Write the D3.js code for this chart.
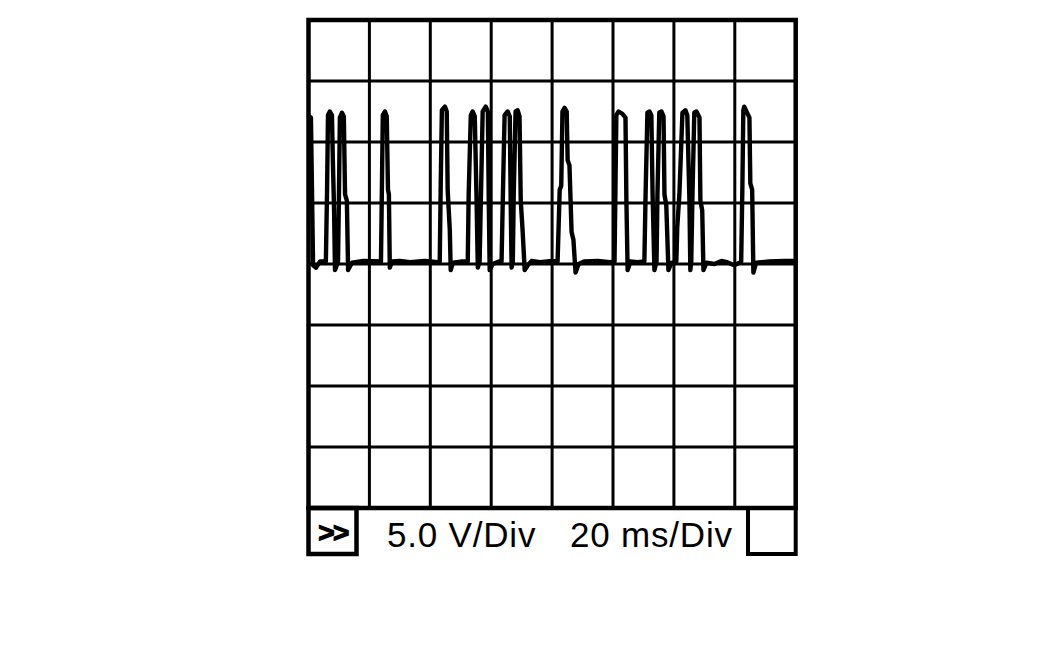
<!DOCTYPE html>
<html>
<head>
<meta charset="utf-8">
<script src="https://cdn.jsdelivr.net/npm/d3@7"></script>
<style>
  html, body { margin: 0; padding: 0; background: #fff; }
  svg { display: block; }
</style>
</head>
<body>
<svg id="chart" width="1063" height="661"></svg>
<script>
// ---- data ----
const timeMs = [
  0.2,0.8,1.5,2.5,3.8,5.7,6.1,6.4,7.0,7.7,8.0,8.4,8.7,9.0,9.7,10.0,10.3,11.0,11.6,12.0,12.6,13.0,13.6,14.3,18.0,
  23.8,24.1,24.4,25.1,25.7,26.1,26.4,26.7,27.4,30.0,33.3,38.2,42.5,
  43.1,43.4,43.8,44.8,45.4,45.7,46.4,46.7,47.4,50.0,
  52.3,52.6,53.3,53.9,54.6,55.2,55.6,56.2,56.6,57.2,58.2,58.9,59.2,59.5,60.5,62.5,
  63.4,63.8,64.4,65.4,66.1,66.4,66.7,67.1,67.4,68.0,68.7,69.3,69.7,70.3,71.0,72.0,73.3,76.0,80.0,
  81.8,82.5,83.0,83.4,84.1,84.8,85.1,85.7,86.4,87.0,87.7,88.7,90.5,95.0,99.0,
  100.5,100.8,101.1,101.8,103.1,104.1,104.4,104.8,105.7,108.0,
  110.3,110.7,111.3,112.0,112.6,113.0,113.6,114.3,114.6,115.2,115.9,116.6,116.9,117.5,118.2,119.2,
  120.8,121.1,121.8,122.8,123.8,124.4,125.1,125.4,125.7,126.1,126.7,127.4,128.4,128.7,129.3,129.7,130.7,
  133.3,135.6,137.5,139.8,141.5,
  142.1,142.5,142.8,143.1,144.8,145.1,145.7,146.1,147.0,151.3,156.2,160
];
const volts = [
  12.1,12.0,-0.1,-0.3,0.2,0.2,6.1,12.2,12.5,12.2,8.5,4.4,-0.5,-0.3,0.2,5.7,12.0,12.4,12.1,5.7,5.2,-0.5,-0.2,0.1,0.25,
  0.2,6.1,12.2,12.5,12.1,6.1,5.7,-0.3,0.2,0.25,0.15,0.25,0.15,
  0.2,6.1,12.6,12.9,12.5,6.1,2.8,-0.5,0.1,0.2,
  0.2,5.7,12.2,12.5,12.1,5.2,-0.3,0.2,5.2,12.5,12.9,12.5,5.2,-0.5,0,0.2,
  0.2,5.2,12.2,12.5,12.1,5.2,-0.3,0.2,5.7,12.5,12.6,12.1,5.2,2.8,-0.5,-0.1,0.25,0.15,0.25,
  0.2,6.1,6.4,12.5,12.8,12.5,8.5,8.1,2.6,2.0,-0.7,0,0.2,0.25,0.15,
  0.2,6.1,12.2,12.5,12.3,12.0,5.2,-0.5,0.2,0.15,
  0.2,5.7,12.4,12.5,12.2,5.7,-0.5,0.2,5.7,12.4,12.5,12.1,5.7,4.8,-0.5,0.1,
  0.2,3.0,5.7,12.4,12.6,12.2,5.2,-0.5,0.2,5.7,12.4,12.5,12.0,5.2,4.4,-0.5,0.1,
  0,0.25,0.15,-0.1,0.1,
  0.2,6.5,12.6,12.9,12.0,6.6,6.1,-0.7,0.1,0.2,0.25,0.25
];
const timeTicks = [0,20,40,60,80,100,120,140,160];
const voltTicks = [-20,-15,-10,-5,0,5,10,15,20];
const voltLabel = "5.0 V/Div";
const timeLabel = "20 ms/Div";
const arrowLabel = ">>";

(function () {
  const pLeft = 308.5, pRight = 795.7, pTop = 20, pBottom = 508, barBottom = 554;
  const svg = d3.select("#chart");
  const x = d3.scaleLinear().domain([0,160]).range([pLeft, pRight]);
  const y = d3.scaleLinear().domain([-20,20]).range([pBottom, pTop]);

  const g = svg.append("g");
  g.selectAll("line.v").data(timeTicks.slice(1,-1)).enter().append("line")
    .attr("class", "v")
    .attr("x1", d => x(d)).attr("x2", d => x(d))
    .attr("y1", pTop).attr("y2", pBottom)
    .attr("stroke", "#000").attr("stroke-width", 3);
  g.selectAll("line.h").data(voltTicks.slice(1,-1)).enter().append("line")
    .attr("class", "h")
    .attr("x1", pLeft).attr("x2", pRight)
    .attr("y1", d => y(d)).attr("y2", d => y(d))
    .attr("stroke", "#000").attr("stroke-width", 3);

  const pts = timeMs.map((t,i) => [t, volts[i]]);
  g.append("path").datum(pts)
    .attr("d", d3.line().x(d => x(d[0])).y(d => y(d[1])))
    .attr("fill", "none").attr("stroke", "#000").attr("stroke-width", 4.4)
    .attr("stroke-linejoin", "round").attr("stroke-linecap", "round");

  g.append("rect").attr("x", pLeft).attr("y", pTop)
    .attr("width", pRight - pLeft).attr("height", pBottom - pTop)
    .attr("fill", "none").attr("stroke", "#000").attr("stroke-width", 4.5);

  g.append("rect").attr("x", pLeft).attr("y", pBottom)
    .attr("width", 48).attr("height", barBottom - pBottom)
    .attr("fill", "none").attr("stroke", "#000").attr("stroke-width", 4.5);
  g.append("rect").attr("x", 748).attr("y", pBottom)
    .attr("width", pRight - 748).attr("height", barBottom - pBottom)
    .attr("fill", "none").attr("stroke", "#000").attr("stroke-width", 4);

  g.append("text").attr("x", 333).attr("y", 542).attr("text-anchor", "middle")
    .attr("font-family", "Liberation Sans, Arial, sans-serif").attr("font-weight", "bold")
    .attr("font-size", 28).attr("letter-spacing", -1.5)
    .attr("stroke", "#000").attr("stroke-width", 1.2).text(arrowLabel);
  g.append("text").attr("x", 387).attr("y", 547)
    .attr("font-family", "Liberation Sans, Arial, sans-serif")
    .attr("font-size", 35).attr("letter-spacing", 0.8).text(voltLabel);
  g.append("text").attr("x", 570).attr("y", 547)
    .attr("font-family", "Liberation Sans, Arial, sans-serif")
    .attr("font-size", 35).attr("letter-spacing", 0.8).text(timeLabel);
})();
</script>
</body>
</html>
